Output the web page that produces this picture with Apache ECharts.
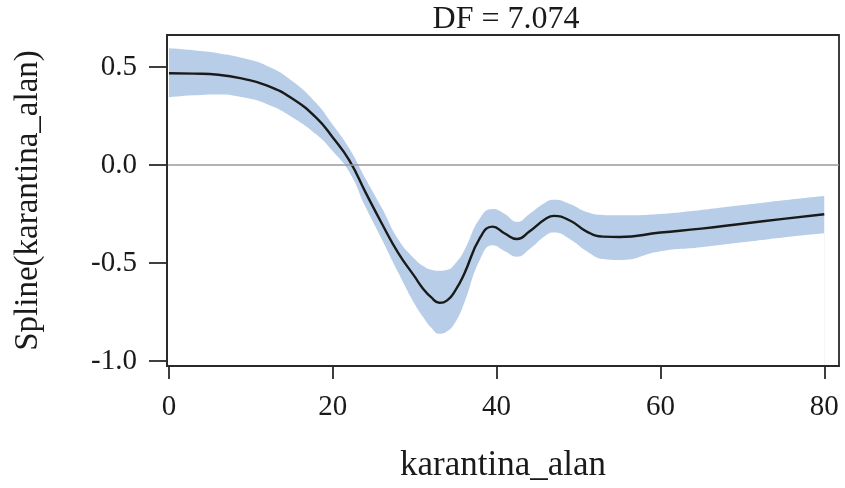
<!DOCTYPE html>
<html>
<head>
<meta charset="utf-8">
<script src="https://cdn.jsdelivr.net/npm/echarts@6/dist/echarts.min.js"></script>
<style>
  html, body { margin: 0; padding: 0; background: #ffffff; }
  #chart { width: 845px; height: 488px; }
</style>
</head>
<body>
<div id="chart"></div>
<script>
// Smoothed partial effect of karantina_alan with its confidence band
const xs    = [0, 3, 6, 9, 12, 15, 18, 20, 22, 24, 26, 28, 30, 31, 32, 33, 34, 35, 36, 38, 39.5, 41, 42.5, 44, 46, 47, 49, 51, 53, 55, 60, 65, 70, 75, 80];
const fit   = [0.468, 0.466, 0.46, 0.44, 0.405, 0.34, 0.24, 0.14, 0.025, -0.14, -0.30, -0.45, -0.57, -0.63, -0.675, -0.703, -0.69, -0.638, -0.56, -0.37, -0.315, -0.35, -0.378, -0.34, -0.275, -0.26, -0.285, -0.34, -0.366, -0.368, -0.345, -0.325, -0.30, -0.275, -0.252];
const upper = [0.595, 0.585, 0.57, 0.545, 0.505, 0.43, 0.315, 0.205, 0.085, -0.07, -0.22, -0.38, -0.48, -0.515, -0.535, -0.54, -0.535, -0.50, -0.44, -0.27, -0.225, -0.25, -0.29, -0.25, -0.19, -0.178, -0.20, -0.24, -0.255, -0.257, -0.25, -0.23, -0.205, -0.18, -0.158];
const lower = [0.345, 0.355, 0.36, 0.345, 0.31, 0.245, 0.155, 0.07, -0.035, -0.215, -0.38, -0.55, -0.71, -0.775, -0.83, -0.862, -0.848, -0.80, -0.71, -0.48, -0.41, -0.44, -0.468, -0.43, -0.36, -0.345, -0.38, -0.44, -0.48, -0.485, -0.44, -0.42, -0.395, -0.37, -0.349];
const xTicks = [0, 20, 40, 60, 80];
const yTicks = [-1.0, -0.5, 0.0, 0.5];
const titleText = 'DF = 7.074';

const serif = 'Liberation Serif';
const ink = '#1a1a1a';
const bandColor = '#b8cee8';

const fitData = xs.map((x, i) => [x, fit[i]]);
const upperData = xs.map((x, i) => [x, upper[i]]);
const lowerData = xs.map((x, i) => [x, lower[i]]);

const chart = echarts.init(document.getElementById('chart'), null, { renderer: 'canvas' });
chart.setOption({
  animation: false,
  backgroundColor: '#ffffff',
  title: {
    text: titleText,
    left: 501,
    top: -1,
    textAlign: 'center',
    textStyle: { fontFamily: serif, fontSize: 32, fontWeight: 'normal', color: ink }
  },
  grid: {
    left: 167, right: 6, top: 35, bottom: 122,
    show: true, borderColor: '#2a2a2a', borderWidth: 1.8, backgroundColor: 'transparent'
  },
  xAxis: {
    type: 'value',
    z: 10,
    min: -0.24, max: 81.8,
    name: 'karantina_alan',
    nameLocation: 'middle',
    nameGap: 82,
    nameTextStyle: { fontFamily: serif, fontSize: 35, color: ink },
    axisLine: { show: true, onZero: false, lineStyle: { color: '#2a2a2a', width: 1.8 } },
    axisTick: { show: true, customValues: xTicks, length: 13, lineStyle: { color: '#2a2a2a', width: 1.8 } },
    axisLabel: {
      customValues: xTicks, margin: 27,
      fontFamily: serif, fontSize: 29, color: ink
    },
    splitLine: { show: false }
  },
  yAxis: {
    type: 'value',
    z: 10,
    min: -1.026, max: 0.663,
    name: 'Spline(karantina_alan)',
    nameLocation: 'middle',
    nameGap: 122,
    nameTextStyle: { fontFamily: serif, fontSize: 33, color: ink },
    axisLine: { show: true, onZero: false, lineStyle: { color: '#2a2a2a', width: 1.8 } },
    axisTick: { show: true, customValues: yTicks, length: 18, lineStyle: { color: '#2a2a2a', width: 1.8 } },
    axisLabel: {
      customValues: yTicks, margin: 30,
      fontFamily: serif, fontSize: 29, color: ink,
      formatter: v => v.toFixed(1)
    },
    splitLine: { show: false }
  },
  series: [
    {
      // upper bound filled down to the axis floor
      name: 'upper',
      type: 'line',
      data: upperData,
      smooth: 0.5,
      symbol: 'none',
      lineStyle: { width: 0, opacity: 0 },
      areaStyle: { color: bandColor, opacity: 1, origin: 'start' },
      z: 1,
      silent: true
    },
    {
      // lower bound: background fill trims the band from below
      name: 'lower',
      type: 'line',
      data: lowerData,
      smooth: 0.5,
      symbol: 'none',
      lineStyle: { width: 0, opacity: 0 },
      areaStyle: { color: '#ffffff', opacity: 1, origin: 'start' },
      z: 1.5,
      silent: true
    },
    {
      name: 'fit',
      type: 'line',
      data: fitData,
      smooth: 0.5,
      symbol: 'none',
      lineStyle: { color: ink, width: 2.4 },
      z: 3,
      silent: true,
      markLine: {
        silent: true,
        symbol: 'none',
        label: { show: false },
        lineStyle: { color: '#9a9a9a', width: 1.5, type: 'solid' },
        data: [{ yAxis: 0 }]
      }
    }
  ]
});
</script>
</body>
</html>
